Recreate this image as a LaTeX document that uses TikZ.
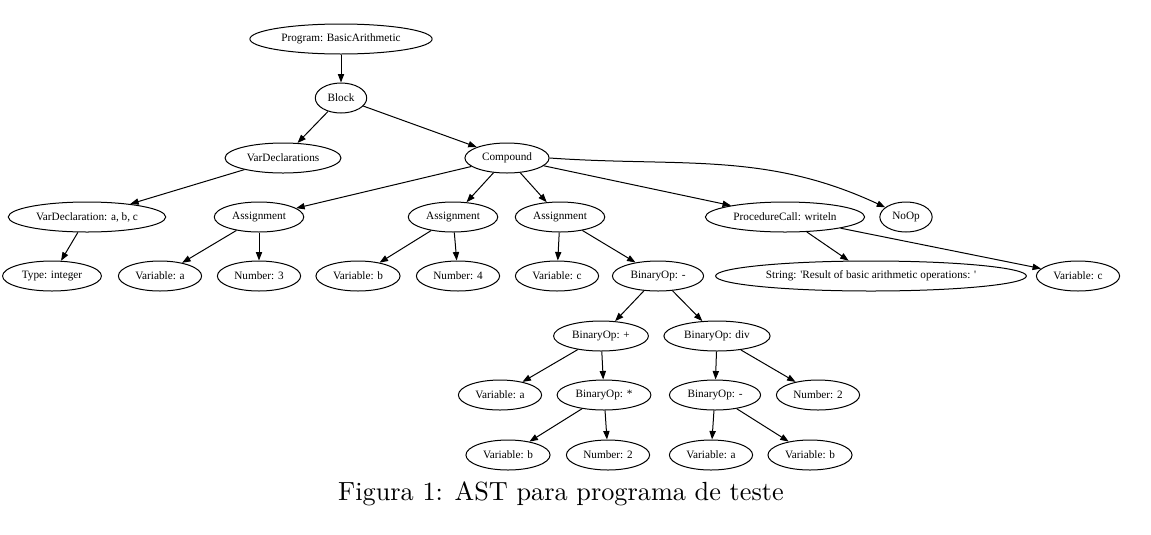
\documentclass[tikz,border=0pt]{standalone}
\usepackage{fontspec}
\usepackage{tikz}
\usetikzlibrary{shapes.geometric}
\usetikzlibrary{arrows.meta}
\newfontfamily\gvfont{Liberation Serif}

\begin{document}
\begin{tikzpicture}[x=0.4pt, y=-0.4pt,
		ast/.style={draw, ellipse, thin, inner xsep=1.9pt, inner ysep=1pt, minimum height=12pt, font=\gvfont\fontsize{4.5}{5}\selectfont},
		edge/.style={-{Triangle[length=3.4pt, width=2.5pt]}, thin}]
			\useasboundingbox (0,0) rectangle (1151,534);
			% rows of the tree
			\node[ast] (prog) at (341,39) {Program: BasicArithmetic};
			\node[ast] (block) at (341,98) {Block};
			\node[ast] (vardecls) at (283,158) {VarDeclarations};
			\node[ast] (compound) at (507,158) {Compound};
			\node[ast] (vardecl) at (87,217) {VarDeclaration: a, b, c};
			\node[ast] (assign1) at (259,217) {Assignment};
			\node[ast] (assign2) at (453,217) {Assignment};
			\node[ast] (assign3) at (560,217) {Assignment};
			\node[ast] (call) at (785,217) {ProcedureCall: writeln};
			\node[ast] (noop) at (906,217) {NoOp};
			\node[ast] (type) at (52,276) {Type: integer};
			\node[ast] (vara1) at (160,276) {Variable: a};
			\node[ast] (num3) at (259,276) {Number: 3};
			\node[ast] (varb1) at (358,276) {Variable: b};
			\node[ast] (num4) at (458,276) {Number: 4};
			\node[ast] (varc1) at (557,276) {Variable: c};
			\node[ast] (binminus) at (658,276) {BinaryOp: -};
			\node[ast] (str) at (871,276) {String: {\textquotesingle}Result of basic arithmetic operations: {\textquotesingle}};
			\node[ast] (varc2) at (1078,276) {Variable: c};
			\node[ast] (binplus) at (601,336) {BinaryOp: +};
			\node[ast] (bindiv) at (717,336) {BinaryOp: div};
			\node[ast] (vara2) at (500,395) {Variable: a};
			\node[ast] (bintimes) at (604,395) {BinaryOp: *};
			\node[ast] (binminus2) at (715,395) {BinaryOp: -};
			\node[ast] (num2a) at (818,395) {Number: 2};
			\node[ast] (varb2) at (508,455) {Variable: b};
			\node[ast] (num2b) at (608,455) {Number: 2};
			\node[ast] (vara3) at (711,455) {Variable: a};
			\node[ast] (varb3) at (810,455) {Variable: b};
			% edges
			\foreach \a/\b in {prog/block, block/vardecls, block/compound, vardecls/vardecl, vardecl/type,
				compound/assign1, compound/assign2, compound/assign3, compound/call,
				assign1/vara1, assign1/num3, assign2/varb1, assign2/num4, assign3/varc1, assign3/binminus,
				binminus/binplus, binminus/bindiv, binplus/vara2, binplus/bintimes, bintimes/varb2, bintimes/num2b,
				bindiv/binminus2, bindiv/num2a, binminus2/vara3, binminus2/varb3, call/str, call/varc2}{
				\draw[edge] (\a) -- (\b);};
			\draw[edge] (compound.east) to[out=-4, in=155] (noop);
			\node (caption) at (561,494) {\fontsize{10.5}{12}\selectfont Figura 1: AST para programa de teste};
		\end{tikzpicture}
\end{document}
